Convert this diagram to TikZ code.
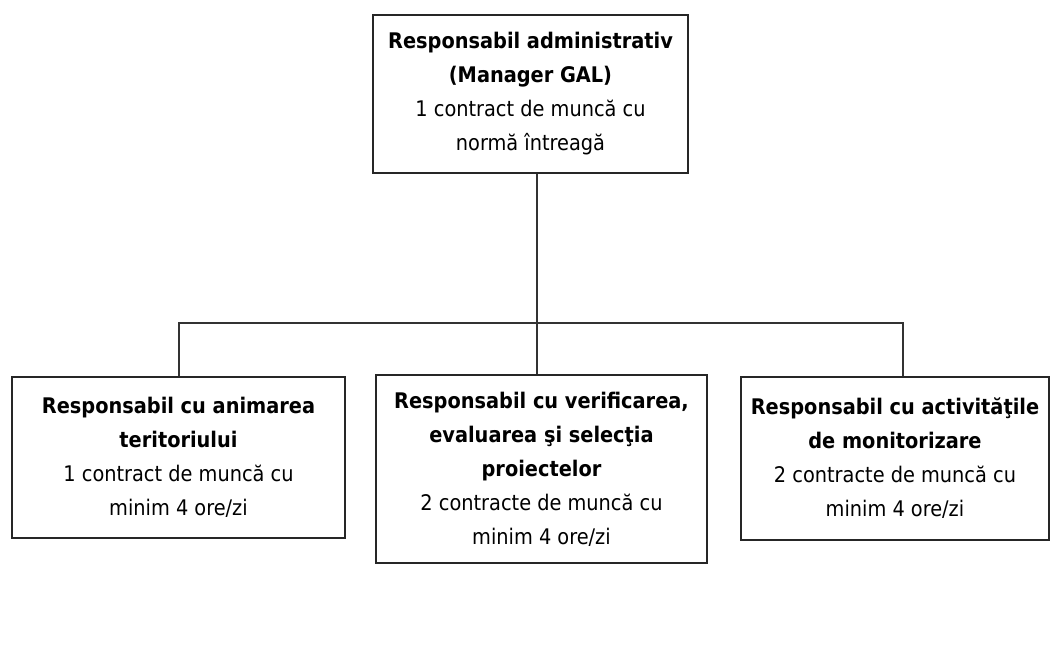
\documentclass[tikz,border=0pt]{standalone}
\usepackage{fontspec}
\setmainfont{DejaVu Sans Condensed}
\begin{document}
\begin{tikzpicture}[x=1pt,y=-1pt,
  box/.style={draw=black!85,line width=1.4pt,align=center,inner sep=0pt,
    font=\fontsize{21.5}{34}\selectfont},
  conn/.style={draw=black!80,line width=1.3pt}]
\useasboundingbox[fill=white] (0,0) rectangle (1051,666);
\node[box,minimum width=315pt,minimum height=158pt] (top) at (530.5,94)
  {\textbf{Responsabil administrativ}\\\textbf{(Manager GAL)}\\1 contract de muncă cu\\normă întreagă};
\node[box,minimum width=333pt,minimum height=161pt] (left) at (178.5,457.5)
  {\textbf{Responsabil cu animarea}\\\textbf{teritoriului}\\1 contract de muncă cu\\minim 4 ore/zi};
\node[box,minimum width=331pt,minimum height=188pt] (mid) at (541.5,469)
  {\textbf{Responsabil cu verificarea,}\\\textbf{evaluarea şi selecţia}\\\textbf{proiectelor}\\2 contracte de muncă cu\\minim 4 ore/zi};
\node[box,minimum width=308pt,minimum height=163pt] (right) at (895,458.5)
  {\textbf{Responsabil cu activităţile}\\\textbf{de monitorizare}\\2 contracte de muncă cu\\minim 4 ore/zi};
\coordinate (busM) at (537,323);
\coordinate (busL) at (179,323);
\coordinate (busR) at (903,323);
\draw[conn] (top.south -| busM) -- (busM) -- (busM |- mid.north);
\draw[conn] (busL |- left.north) -- (busL) -- (busR) -- (busR |- right.north);
\end{tikzpicture}
\end{document}
